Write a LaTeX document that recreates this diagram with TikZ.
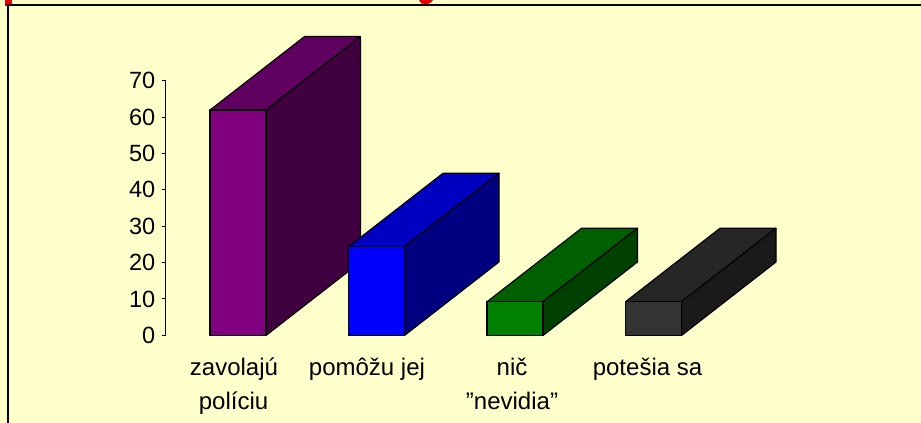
\documentclass[tikz,border=0pt]{standalone}
\usepackage{fontspec}
\setmainfont{Liberation Sans}
\definecolor{bgy}{HTML}{FFFFCC}
\definecolor{pf}{HTML}{800080}\definecolor{pt}{HTML}{600060}\definecolor{ps}{HTML}{400040}
\definecolor{bf}{HTML}{0000FF}\definecolor{bt}{HTML}{0000C0}\definecolor{bs}{HTML}{000080}
\definecolor{gf}{HTML}{008000}\definecolor{gt}{HTML}{006000}\definecolor{gs}{HTML}{004000}
\definecolor{kf}{HTML}{333333}\definecolor{kt}{HTML}{262626}\definecolor{ks}{HTML}{1A1A1A}
\definecolor{redt}{HTML}{E00000}
\newcommand{\cubebar}[6]{%
  % #1 x, #2 top, #3 front, #4 top colour, #5 side colour, #6 name
  \pgfmathsetmacro{\xa}{#1}\pgfmathsetmacro{\xb}{#1+56}
  \pgfmathsetmacro{\xc}{#1+94.5}\pgfmathsetmacro{\xd}{#1+56+94.5}
  \pgfmathsetmacro{\ya}{#2}\pgfmathsetmacro{\yc}{#2-73.5}
  \pgfmathsetmacro{\yb}{335.5}\pgfmathsetmacro{\yd}{335.5-73.5}
  \filldraw[face,fill=#4] (\xa,\ya) -- (\xc,\yc) -- (\xd,\yc) -- (\xb,\ya) -- cycle;
  \filldraw[face,fill=#5] (\xb,\ya) -- (\xd,\yc) -- (\xd,\yd) -- (\xb,\yb) -- cycle;
  \filldraw[face,fill=#3] (\xa,\ya) rectangle (\xb,\yb);
  \coordinate (#6) at ({(\xa+\xb)/2},\yb);
}
\begin{document}
\begin{tikzpicture}[x=1pt,y=-1pt,
  face/.style={draw=black,line width=1.1pt,line join=round},
  frame/.style={draw=black,line width=2.6pt},
  ticklab/.style={anchor=east,inner sep=0pt,font=\fontsize{23.5}{28}\selectfont},
  catlab/.style={anchor=base,inner sep=0pt,font=\fontsize{24}{28}\selectfont}]
\fill[bgy] (0,0) rectangle (921,423);
\useasboundingbox (0,0) rectangle (921,423);
% red fragments of cut-off title
\fill[redt] (4.5,0) rectangle (12,5.5);
\fill[redt] (419,0) .. controls (420,6) and (430,6) .. (433,0) -- cycle;
% frame
\draw[frame] (8,423) -- (8,5) -- (921,5);
% axis
\draw[line width=0.9pt] (165.5,80.7) -- (165.5,335.3);
\foreach \v [count=\i from 0] in {0,10,20,30,40,50,60,70}{
  \pgfmathsetmacro{\ty}{335.3-36.37*\i}
  \draw[line width=0.9pt] (161.5,\ty) -- (165.5,\ty);
  \node[ticklab] (t\v) at (155.5,\ty) {\v};
}
% bars
\cubebar{210}{110}{pf}{pt}{ps}{b1}
\cubebar{348.5}{246.7}{bf}{bt}{bs}{b2}
\cubebar{487}{301.7}{gf}{gt}{gs}{b3}
\cubebar{625.5}{301.7}{kf}{kt}{ks}{b4}
% category labels
\node[catlab] (l1a) at (234,375) {zavolajú};
\node[catlab] (l1b) at (233.5,409) {políciu};
\node[catlab] (l2) at (367,375) {pomôžu jej};
\node[catlab] (l3a) at (512,375) {nič};
\node[catlab] (l3b) at (512,409) {\symbol{34}nevidia\symbol{34}};
\node[catlab] (l4) at (647.5,375) {potešia sa};
\end{tikzpicture}
\end{document}
